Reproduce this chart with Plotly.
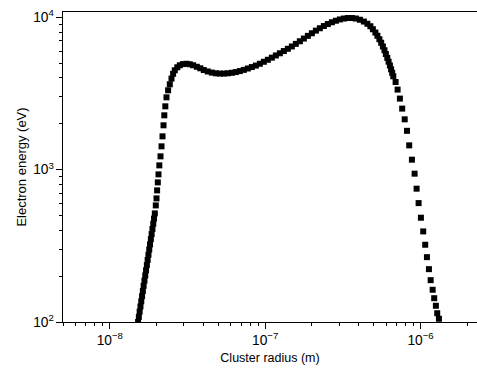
import plotly.graph_objects as go

# Cluster radius (m)
radius_m = [
    1.521e-8, 1.539e-8, 1.557e-8, 1.576e-8, 1.595e-8, 1.614e-8, 1.633e-8, 1.652e-8,
    1.672e-8, 1.692e-8, 1.712e-8, 1.733e-8, 1.753e-8, 1.774e-8, 1.795e-8, 1.816e-8,
    1.838e-8, 1.860e-8, 1.882e-8, 1.905e-8, 1.927e-8, 1.950e-8,
    1.978e-8, 1.999e-8, 2.017e-8, 2.038e-8, 2.059e-8, 2.084e-8, 2.121e-8, 2.153e-8,
    2.185e-8, 2.218e-8, 2.244e-8, 2.278e-8, 2.318e-8, 2.374e-8,
    2.434e-8, 2.496e-8, 2.556e-8, 2.621e-8, 2.720e-8, 2.823e-8, 2.965e-8, 3.118e-8,
    3.274e-8, 3.439e-8, 3.633e-8, 3.826e-8, 4.030e-8, 4.276e-8, 4.537e-8, 4.814e-8,
    5.108e-8, 5.421e-8, 5.752e-8, 6.103e-8, 6.476e-8, 6.872e-8, 7.292e-8, 7.737e-8,
    8.210e-8, 8.712e-8, 9.244e-8, 9.809e-8, 1.041e-7, 1.104e-7, 1.172e-7, 1.244e-7,
    1.319e-7, 1.400e-7, 1.486e-7, 1.576e-7, 1.673e-7, 1.775e-7, 1.883e-7, 1.999e-7,
    2.121e-7, 2.250e-7, 2.388e-7, 2.533e-7, 2.688e-7, 2.852e-7, 3.027e-7, 3.212e-7,
    3.408e-7, 3.616e-7, 3.837e-7, 4.072e-7, 4.320e-7, 4.550e-7, 4.758e-7, 4.937e-7,
    5.124e-7, 5.278e-7, 5.437e-7, 5.584e-7, 5.726e-7, 5.864e-7, 5.987e-7, 6.112e-7,
    6.231e-7, 6.353e-7, 6.466e-7, 6.573e-7, 6.681e-7,
    6.913e-7, 7.121e-7, 7.368e-7, 7.623e-7, 7.911e-7, 8.186e-7, 8.457e-7, 8.803e-7,
    9.162e-7, 9.437e-7, 9.722e-7, 1.006e-6, 1.041e-6, 1.072e-6, 1.100e-6, 1.133e-6,
    1.162e-6, 1.197e-6, 1.225e-6, 1.256e-6, 1.281e-6, 1.314e-6,
]

# Electron energy (eV)
energy_ev = [
    100.0, 108.1, 116.9, 126.4, 136.7, 147.8, 159.8, 172.8,
    186.9, 202.1, 218.5, 236.3, 255.5, 276.3, 298.8, 323.1,
    349.4, 377.7, 408.4, 441.6, 477.5, 516.3,
    582.6, 647.8, 731.1, 825.2, 931.4, 1067, 1223, 1423,
    1655, 1955, 2274, 2605, 2985, 3319,
    3635, 3962, 4260, 4492, 4700, 4845, 4934, 4956,
    4919, 4845, 4736, 4630, 4506, 4411, 4338, 4292,
    4273, 4273, 4292, 4325, 4371, 4438, 4519, 4616,
    4715, 4823, 4956, 5108, 5265, 5435, 5619, 5809,
    6006, 6218, 6439, 6697, 6966, 7256, 7559, 7862,
    8178, 8480, 8767, 9036, 9285, 9499, 9687, 9820,
    9895, 9895, 9820, 9643, 9385, 9077, 8740, 8352,
    7946, 7570, 7180, 6809, 6439, 6079, 5740, 5419,
    5116, 4830, 4560, 4325, 4102,
    3763, 3354, 2928, 2517, 2140, 1799, 1444, 1163,
    941.3, 750.2, 603.3, 483.7, 393.2, 321.5, 266.5, 222.3,
    188.2, 162.8, 143.3, 127.8, 114.2, 105.0,
]

x_range_log = [-8.30103, -5.6364]
y_range_log = [2.0, 4.035]

FONT = "Arial, Liberation Sans, Helvetica, sans-serif"

fig = go.Figure()
fig.add_trace(go.Scatter(
    x=radius_m,
    y=energy_ev,
    mode="markers",
    marker=dict(symbol="square", size=6, color="black", line=dict(width=0)),
    showlegend=False,
    hoverinfo="skip",
))

axis_common = dict(
    type="log",
    dtick=1,
    exponentformat="power",
    showexponent="all",
    ticks="outside",
    ticklen=6,
    tickwidth=1,
    tickcolor="black",
    showline=True,
    linecolor="black",
    linewidth=1,
    showgrid=False,
    zeroline=False,
    automargin=False,
    tickfont=dict(family=FONT, size=11, color="black"),
    minor=dict(ticks="outside", ticklen=3, tickwidth=1, tickcolor="black",
               showgrid=False, dtick="D1"),
)

fig.update_layout(
    width=477,
    height=371,
    margin=dict(l=63, r=0, t=12, b=49),
    paper_bgcolor="white",
    plot_bgcolor="white",
    font=dict(family=FONT, color="black"),
    hovermode=False,
    xaxis=dict(
        axis_common,
        range=x_range_log,
        mirror=True,
        title=dict(text="Cluster radius (m)", font=dict(family=FONT, size=12.5, color="black"),
                   standoff=6),
    ),
    yaxis=dict(
        axis_common,
        range=y_range_log,
        mirror=False,
        title=dict(text="Electron energy (eV)", font=dict(family=FONT, size=13, color="black"),
                   standoff=3),
    ),
)

fig.write_html(
    "out.html",
    config={"displayModeBar": False, "staticPlot": True},
    post_script="document.body.style.margin='0';document.body.style.overflow='hidden';",
)
